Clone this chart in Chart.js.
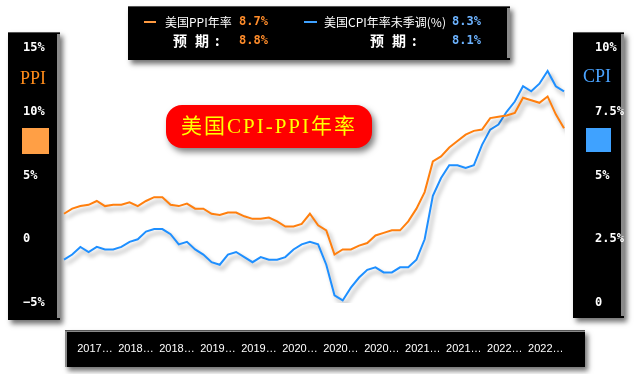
<!DOCTYPE html>
<html>
<head>
<meta charset="utf-8">
<script src="https://cdn.jsdelivr.net/npm/chart.js@4/dist/chart.umd.min.js"></script>
<style>
  html, body { margin: 0; padding: 0; background: #fff; }
  canvas { display: block; }
</style>
</head>
<body>
<canvas id="rateChart" width="641" height="374"></canvas>
<script>
// monthly data, Jul 2017 - Aug 2022
const months = [
  '2017-07', '2017-08', '2017-09', '2017-10', '2017-11', '2017-12',
  '2018-01', '2018-02', '2018-03', '2018-04', '2018-05', '2018-06',
  '2018-07', '2018-08', '2018-09', '2018-10', '2018-11', '2018-12',
  '2019-01', '2019-02', '2019-03', '2019-04', '2019-05', '2019-06',
  '2019-07', '2019-08', '2019-09', '2019-10', '2019-11', '2019-12',
  '2020-01', '2020-02', '2020-03', '2020-04', '2020-05', '2020-06',
  '2020-07', '2020-08', '2020-09', '2020-10', '2020-11', '2020-12',
  '2021-01', '2021-02', '2021-03', '2021-04', '2021-05', '2021-06',
  '2021-07', '2021-08', '2021-09', '2021-10', '2021-11', '2021-12',
  '2022-01', '2022-02', '2022-03', '2022-04', '2022-05', '2022-06',
  '2022-07', '2022-08'
];
const ppiValues = [
  2.0, 2.4, 2.6, 2.7, 3.0, 2.6, 2.7, 2.7, 2.9, 2.6, 3.0, 3.3,
  3.3, 2.7, 2.6, 2.8, 2.4, 2.4, 2.0, 1.9, 2.1, 2.1, 1.8, 1.6,
  1.6, 1.7, 1.4, 1.0, 1.0, 1.2, 2.0, 1.1, 0.7, -1.2, -0.8, -0.8,
  -0.5, -0.3, 0.3, 0.5, 0.7, 0.7, 1.4, 2.4, 3.7, 6.1, 6.5, 7.2,
  7.7, 8.2, 8.5, 8.6, 9.5, 9.6, 9.7, 9.9, 11.1, 10.9, 10.7, 11.2,
  9.8, 8.7
];
const cpiValues = [
  1.7, 1.9, 2.2, 2.0, 2.2, 2.1, 2.1, 2.2, 2.4, 2.5, 2.8, 2.9,
  2.9, 2.7, 2.3, 2.4, 2.1, 1.9, 1.6, 1.5, 1.9, 2.0, 1.8, 1.6,
  1.8, 1.7, 1.7, 1.8, 2.1, 2.3, 2.4, 2.3, 1.5, 0.3, 0.1, 0.6,
  1.0, 1.3, 1.4, 1.2, 1.2, 1.4, 1.4, 1.7, 2.5, 4.2, 4.9, 5.4,
  5.4, 5.3, 5.4, 6.2, 6.8, 7.0, 7.5, 7.9, 8.5, 8.3, 8.6, 9.1,
  8.5, 8.3
];
const seriesNames = ['美国PPI年率', '美国CPI年率未季调(%)'];
const actualValues = ['8.7%', '8.3%'];
const forecastValues = ['8.8%', '8.1%'];
const ppiTicks = [-5, 0, 5, 10, 15];
const cpiTicks = [0, 2.5, 5, 7.5, 10];

const ORANGE = '#ff7f0e';
const BLUE = '#1e8fff';
const MONO = 'bold 12px "DejaVu Sans Mono", monospace';

// black box with drop shadow and a grey bevel edge
const drawPanel = (ctx, x, y, w, h, bevel) => {
  ctx.save();
  ctx.shadowColor = 'rgba(0,0,0,0.55)';
  ctx.shadowBlur = 5;
  ctx.shadowOffsetX = 3;
  ctx.shadowOffsetY = 4;
  ctx.fillStyle = '#000';
  ctx.fillRect(x, y, w, h);
  ctx.restore();
  ctx.fillStyle = '#8a8a8a';
  if (bevel === 'right') ctx.fillRect(x + w - 3, y + 2, 3, h - 4);
  if (bevel === 'topleft') {
    ctx.fillRect(x, y, w, 2);
    ctx.fillRect(x, y, 2, h);
  }
  ctx.fillStyle = '#555';
  ctx.fillRect(x, y, w, 1);
};

const decorPlugin = {
  id: 'decor',
  beforeDraw(chart) {
    const ctx = chart.ctx;
    ctx.save();
    ctx.fillStyle = '#fff';
    ctx.fillRect(0, 0, chart.width, chart.height);

    // side panels and x-axis panel
    drawPanel(ctx, 8, 32, 52, 288, 'right');
    drawPanel(ctx, 573, 32, 51, 286, 'right');
    drawPanel(ctx, 65, 330, 520, 37, 'topleft');

    ctx.textBaseline = 'middle';
    ctx.font = '18px "Liberation Serif", serif';
    ctx.fillStyle = '#ff8c1a';
    ctx.fillText('PPI', 20, 79);
    ctx.fillStyle = '#4aa3ff';
    ctx.fillText('CPI', 583, 77);
    ctx.fillStyle = '#ff9f45';
    ctx.fillRect(22, 128, 27, 26);
    ctx.fillStyle = '#3fa2ff';
    ctx.fillRect(586, 128, 25, 24);

    // legend box on top
    drawPanel(ctx, 128, 6, 382, 54, 'right');
    ctx.lineWidth = 2;
    ctx.strokeStyle = '#ff9a40';
    ctx.beginPath(); ctx.moveTo(144, 22); ctx.lineTo(156, 22); ctx.stroke();
    ctx.strokeStyle = '#3fa2ff';
    ctx.beginPath(); ctx.moveTo(304, 22); ctx.lineTo(317, 22); ctx.stroke();

    ctx.fillStyle = '#fff';
    ctx.font = '12px "Noto Sans CJK SC", sans-serif';
    ctx.fillText(seriesNames[0], 165, 22);
    ctx.fillText(seriesNames[1], 324, 22);
    ctx.font = 'bold 14px "Noto Sans CJK SC", sans-serif';
    [173, 370].forEach(x => {
      ctx.fillText('预', x, 41);
      ctx.fillText('期', x + 22, 41);
      ctx.fillText(':', x + 42, 41);
    });
    ctx.font = MONO;
    ctx.fillStyle = '#ff8c2a';
    ctx.fillText(actualValues[0], 239, 22);
    ctx.fillText(forecastValues[0], 239, 41);
    ctx.fillStyle = '#6db3ff';
    ctx.fillText(actualValues[1], 452, 22);
    ctx.fillText(forecastValues[1], 452, 41);

    // red title badge
    ctx.save();
    ctx.shadowColor = 'rgba(0,0,0,0.5)';
    ctx.shadowBlur = 6;
    ctx.shadowOffsetX = 3;
    ctx.shadowOffsetY = 4;
    ctx.fillStyle = '#ff0000';
    ctx.beginPath();
    ctx.roundRect(166, 105, 206, 43, 16);
    ctx.fill();
    ctx.restore();
    ctx.font = '21px "Liberation Serif", "Noto Sans CJK SC", serif';
    ctx.letterSpacing = '2px';
    ctx.textAlign = 'center';
    ctx.fillStyle = '#ffff00';
    ctx.fillText('美国CPI-PPI年率', 269, 127);
    ctx.letterSpacing = '0px';
    ctx.restore();
  },
  beforeDatasetsDraw(chart) {
    const ctx = chart.ctx;
    ctx.save();
    ctx.shadowColor = 'rgba(0,0,0,0.35)';
    ctx.shadowBlur = 4;
    ctx.shadowOffsetX = 3;
    ctx.shadowOffsetY = 4;
  },
  afterDatasetsDraw(chart) {
    chart.ctx.restore();
  }
};

const pctLabel = v => (v === 0 ? '0' : (v < 0 ? '\u2212' + Math.abs(v) : v) + '%');

new Chart(document.querySelector('#rateChart'), {
  type: 'line',
  data: {
    labels: months,
    datasets: [
      {
        label: seriesNames[0],
        data: ppiValues,
        yAxisID: 'yPPI',
        borderColor: ORANGE,
        borderWidth: 2,
        pointRadius: 0,
        tension: 0
      },
      {
        label: seriesNames[1],
        data: cpiValues,
        yAxisID: 'yCPI',
        borderColor: BLUE,
        borderWidth: 2,
        pointRadius: 0,
        tension: 0
      }
    ]
  },
  options: {
    responsive: false,
    animation: false,
    devicePixelRatio: 1,
    layout: {
      padding: { left: 23, right: 0, top: 48, bottom: 0 }
    },
    plugins: {
      legend: { display: false },
      tooltip: { enabled: false }
    },
    scales: {
      x: {
        offset: false,
        grid: { display: false },
        border: { display: false },
        afterFit: scale => { scale.height = 71; },
        ticks: {
          autoSkip: false,
          maxRotation: 0,
          minRotation: 0,
          padding: 31,
          labelOffset: -10,
          color: '#fff',
          font: { family: '"Liberation Sans", sans-serif', size: 11 },
          callback: (v, i) => (i % 5 === 0 && i > 0 ? months[i].slice(0, 4) + '\u2026' : '')
        }
      },
      yPPI: {
        position: 'left',
        min: -5,
        max: 15,
        afterFit: scale => { scale.width = 41; },
        afterBuildTicks: scale => { scale.ticks = ppiTicks.map(v => ({ value: v })); },
        grid: { display: false },
        border: { display: false },
        ticks: {
          crossAlign: 'far',
          color: '#fff',
          font: { family: '"DejaVu Sans Mono", monospace', size: 12, weight: 'bold' },
          callback: pctLabel
        }
      },
      yCPI: {
        position: 'right',
        min: 0,
        max: 10,
        afterFit: scale => { scale.width = 77; },
        afterBuildTicks: scale => { scale.ticks = cpiTicks.map(v => ({ value: v })); },
        grid: { display: false },
        border: { display: false },
        ticks: {
          padding: 23,
          crossAlign: 'near',
          color: '#fff',
          font: { family: '"DejaVu Sans Mono", monospace', size: 12, weight: 'bold' },
          callback: pctLabel
        }
      }
    }
  },
  plugins: [decorPlugin]
});
</script>
</body>
</html>
